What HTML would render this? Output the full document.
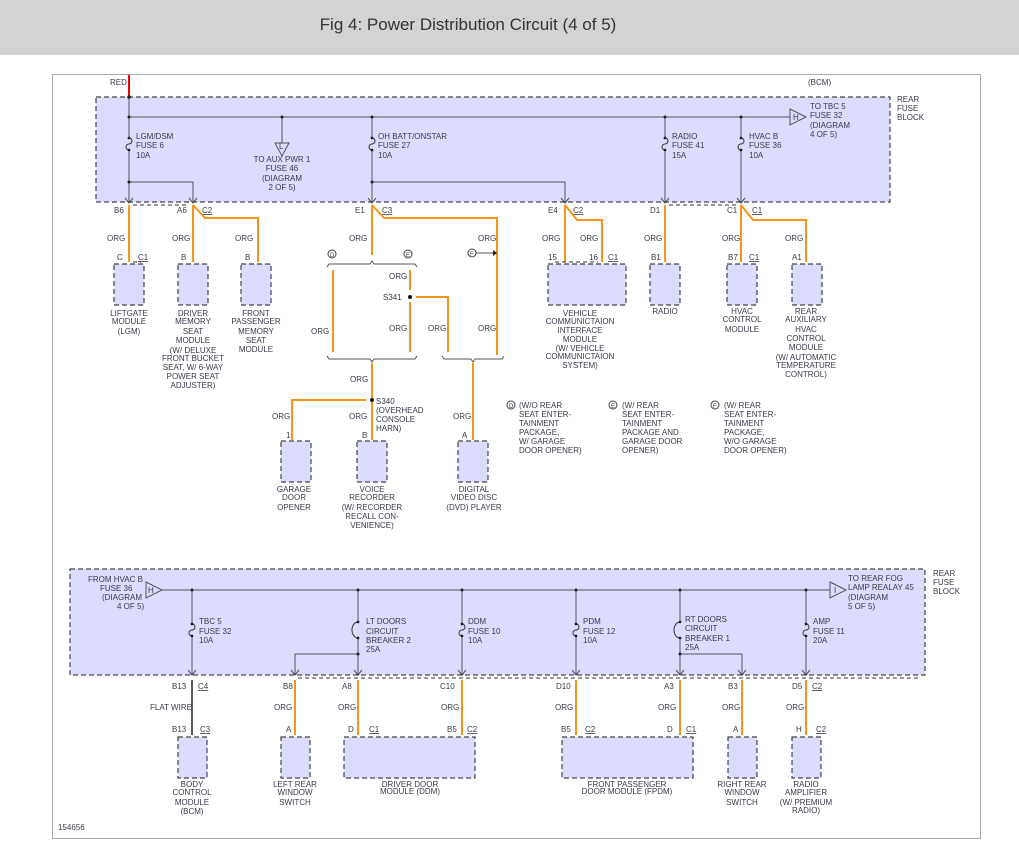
<!DOCTYPE html>
<html><head><meta charset="utf-8"><style>
body{margin:0;background:#fff}
svg{display:block}
text{font-family:"Liberation Sans",sans-serif;font-size:8px;fill:#3a3a4a}
.c{text-anchor:middle}
.o{stroke:#f7941d;stroke-width:2;fill:none}
.k{stroke:#555;stroke-width:1;fill:none}
.b{fill:#dcdcff;stroke:#444;stroke-width:1.2;stroke-dasharray:5,3}
.d{stroke:#333;stroke-width:1;stroke-dasharray:4,3;fill:none}
.brace{stroke:#555;stroke-width:1;fill:none}
.f{fill:none;stroke:#333;stroke-width:1}
.a{fill:none;stroke:#333;stroke-width:0.9}
</style></head><body>
<svg width="1019" height="859" viewBox="0 0 1019 859">
<defs>
<g id="fz"><rect x="-3" y="-6" width="6" height="12" fill="#dcdcff"/><path class="f" d="M0 -6a3 3 0 0 1 0 6a3 3 0 0 0 0 6"/><circle cx="0" cy="-6" r="1.4" fill="#222"/><circle cx="0" cy="6" r="1.4" fill="#222"/></g>
<g id="cb"><rect x="-3" y="-8" width="6" height="16" fill="#dcdcff"/><path class="f" d="M0 -8a6 8 0 0 0 0 16"/><circle cx="0" cy="-8" r="1.4" fill="#222"/><circle cx="0" cy="8" r="1.4" fill="#222"/></g>
<path id="dn" class="a" d="M-4 -5L0 0L4 -5"/>
<path id="up" class="a" d="M-4 4Q-2 0 0 0Q2 0 4 4"/>
</defs>
<rect x="0" y="0" width="1019" height="55" fill="#d3d3d3"/>
<text x="468" y="30" class="c" style="font-size:17px;fill:#333">Fig 4: Power Distribution Circuit (4 of 5)</text>
<rect x="52.5" y="74.5" width="928" height="764" fill="none" stroke="#aaa" stroke-width="1"/>

<!-- TOP BLOCK -->
<rect x="96" y="97" width="794" height="105" class="b"/>
<line x1="129" y1="75" x2="129" y2="97" stroke="#e00" stroke-width="2"/>
<text x="110" y="85">RED</text>
<text x="808" y="85">(BCM)</text>
<text x="897" y="102">REAR</text><text x="897" y="111">FUSE</text><text x="897" y="120">BLOCK</text>
<path class="k" d="M129 97V203M129 117H790M129 182H193V203M372 117V203M372 182H565V203M282 117V143M665 117V203M741 117V203"/>
<path d="M790 109L806 117L790 125Z" fill="#dcdcff" stroke="#555"/><text x="793" y="120">H</text>
<path d="M275 143L289 143L282 156Z" fill="#dcdcff" stroke="#555"/><text x="279" y="149">L</text>
<g fill="#222"><circle cx="129" cy="97" r="1.8"/><circle cx="129" cy="117" r="1.5"/><circle cx="129" cy="182" r="1.5"/><circle cx="282" cy="117" r="1.5"/><circle cx="372" cy="117" r="1.5"/><circle cx="372" cy="182" r="1.5"/><circle cx="665" cy="117" r="1.5"/><circle cx="741" cy="117" r="1.5"/></g>
<use href="#fz" x="129" y="144"/><use href="#fz" x="372" y="144"/><use href="#fz" x="665" y="144"/><use href="#fz" x="741" y="144"/>
<use href="#dn" x="129" y="203"/><use href="#dn" x="193" y="203"/><use href="#dn" x="372" y="203"/><use href="#dn" x="565" y="203"/><use href="#dn" x="665" y="203"/><use href="#dn" x="741" y="203"/>
<text x="136" y="139">LGM/DSM</text><text x="136" y="148">FUSE 6</text><text x="136" y="158">10A</text>
<text x="282" y="162" class="c">TO AUX PWR 1</text><text x="282" y="171" class="c">FUSE 46</text><text x="282" y="181" class="c">(DIAGRAM</text><text x="282" y="190" class="c">2 OF 5)</text>
<text x="378" y="139">OH BATT/ONSTAR</text><text x="378" y="148">FUSE 27</text><text x="378" y="158">10A</text>
<text x="672" y="139">RADIO</text><text x="672" y="148">FUSE 41</text><text x="672" y="158">15A</text>
<text x="749" y="139">HVAC B</text><text x="749" y="148">FUSE 36</text><text x="749" y="158">10A</text>
<text x="810" y="109">TO TBC 5</text><text x="810" y="118">FUSE 32</text><text x="810" y="128">(DIAGRAM</text><text x="810" y="137">4 OF 5)</text>
<path class="d" d="M133 205H189M669 205H737"/>
<text x="114" y="213">B6</text><text x="177" y="213">A6</text><text x="202" y="213" text-decoration="underline">C2</text>
<text x="355" y="213">E1</text><text x="382" y="213" text-decoration="underline">C3</text>
<text x="548" y="213">E4</text><text x="573" y="213" text-decoration="underline">C2</text>
<text x="650" y="213">D1</text><text x="727" y="213">C1</text><text x="752" y="213" text-decoration="underline">C1</text>
<!-- top wires -->
<path class="o" d="M129 205V262M193 205V262M193 205L205 218H258V262M372 205V255M372 205L384 218H497V355M565 205V262M565 205L577 220H602V262M665 205V262M741 205V262M741 205L753 220H806V262"/>
<g><text x="107" y="241">ORG</text><text x="172" y="241">ORG</text><text x="235" y="241">ORG</text><text x="349" y="241">ORG</text><text x="478" y="241">ORG</text><text x="542" y="241">ORG</text><text x="580" y="241">ORG</text><text x="644" y="241">ORG</text><text x="722" y="241">ORG</text><text x="785" y="241">ORG</text></g>
<text x="117" y="260">C</text><text x="138" y="260" text-decoration="underline">C1</text><text x="181" y="260">B</text><text x="245" y="260">B</text>
<text x="548" y="260">15</text><text x="589" y="260">16</text><text x="608" y="260" text-decoration="underline">C1</text><text x="651" y="260">B1</text><text x="728" y="260">B7</text><text x="749" y="260" text-decoration="underline">C1</text><text x="792" y="260">A1</text>
<rect x="114" y="264" width="30" height="41" class="b"/><rect x="178" y="264" width="30" height="41" class="b"/><rect x="241" y="264" width="30" height="41" class="b"/>
<rect x="548" y="264" width="78" height="41" class="b"/><rect x="650" y="264" width="30" height="41" class="b"/><rect x="727" y="264" width="30" height="41" class="b"/><rect x="792" y="264" width="30" height="41" class="b"/>
<g class="c">
<text x="129" y="316" class="c">LIFTGATE</text><text x="129" y="324" class="c">MODULE</text><text x="129" y="334" class="c">(LGM)</text>
<text x="193" y="316" class="c">DRIVER</text><text x="193" y="324" class="c">MEMORY</text><text x="193" y="334" class="c">SEAT</text><text x="193" y="343" class="c">MODULE</text><text x="193" y="353" class="c">(W/ DELUXE</text><text x="193" y="361" class="c">FRONT BUCKET</text><text x="193" y="370" class="c">SEAT, W/ 6-WAY</text><text x="193" y="379" class="c">POWER SEAT</text><text x="193" y="388" class="c">ADJUSTER)</text>
<text x="256" y="316" class="c">FRONT</text><text x="256" y="324" class="c">PASSENGER</text><text x="256" y="334" class="c">MEMORY</text><text x="256" y="343" class="c">SEAT</text><text x="256" y="352" class="c">MODULE</text>
<text x="580" y="316" class="c">VEHICLE</text><text x="580" y="324" class="c">COMMUNICTAION</text><text x="580" y="333" class="c">INTERFACE</text><text x="580" y="342" class="c">MODULE</text><text x="580" y="351" class="c">(W/ VEHICLE</text><text x="580" y="359" class="c">COMMUNICTAION</text><text x="580" y="368" class="c">SYSTEM)</text>
<text x="665" y="314" class="c">RADIO</text>
<text x="742" y="314" class="c">HVAC</text><text x="742" y="322" class="c">CONTROL</text><text x="742" y="332" class="c">MODULE</text>
<text x="806" y="314" class="c">REAR</text><text x="806" y="322" class="c">AUXILIARY</text><text x="806" y="332" class="c">HVAC</text><text x="806" y="341" class="c">CONTROL</text><text x="806" y="350" class="c">MODULE</text><text x="806" y="360" class="c">(W/ AUTOMATIC</text><text x="806" y="368" class="c">TEMPERATURE</text><text x="806" y="377" class="c">CONTROL)</text>
</g>
<path class="d" d="M133 262H141M555 262H598"/>
<!-- middle -->
<circle cx="332" cy="254" r="4" fill="#fff" stroke="#444"/><text x="330" y="257" style="font-size:6px">D</text>
<circle cx="408" cy="254" r="4" fill="#fff" stroke="#444"/><text x="406" y="257" style="font-size:6px">E</text>
<circle cx="472" cy="253" r="4" fill="#fff" stroke="#444"/><text x="470" y="256" style="font-size:6px">F</text>
<path class="k" d="M476 253H495"/><path d="M493 250L497 253L493 256Z" fill="#222"/>
<path class="brace" d="M327 267L329 264H370L372 261L374 264H415L417 267M327 356L329 359H370L372 362L374 359H415L417 356M442 356L444 359H471L473 362L475 359H502L504 356"/>
<path class="o" d="M333 270V352M410 270V290M410 302V352M416 297H448V352M372 363V440M473 363V440M366 400H292V440"/>
<circle cx="410" cy="297" r="2" fill="#111"/><circle cx="372" cy="400" r="2" fill="#111"/>
<text x="311" y="334">ORG</text><text x="389" y="279">ORG</text><text x="383" y="300">S341</text><text x="389" y="331">ORG</text><text x="428" y="331">ORG</text><text x="478" y="331">ORG</text>
<text x="350" y="382">ORG</text><text x="376" y="404">S340</text><text x="376" y="413">(OVERHEAD</text><text x="376" y="422">CONSOLE</text><text x="376" y="431">HARN)</text>
<text x="272" y="419">ORG</text><text x="349" y="419">ORG</text><text x="453" y="419">ORG</text>
<text x="286" y="438">1</text><text x="362" y="438">B</text><text x="462" y="438">A</text>
<rect x="281" y="441" width="30" height="41" class="b"/><rect x="357" y="441" width="30" height="41" class="b"/><rect x="458" y="441" width="30" height="41" class="b"/>
<text x="294" y="492" class="c">GARAGE</text><text x="294" y="500" class="c">DOOR</text><text x="294" y="510" class="c">OPENER</text>
<text x="372" y="492" class="c">VOICE</text><text x="372" y="500" class="c">RECORDER</text><text x="372" y="510" class="c">(W/ RECORDER</text><text x="372" y="519" class="c">RECALL CON-</text><text x="372" y="528" class="c">VENIENCE)</text>
<text x="474" y="492" class="c">DIGITAL</text><text x="474" y="500" class="c">VIDEO DISC</text><text x="474" y="510" class="c">(DVD) PLAYER</text>
<circle cx="511" cy="405" r="4" fill="#fff" stroke="#444"/><text x="509" y="408" style="font-size:6px">D</text>
<circle cx="613" cy="405" r="4" fill="#fff" stroke="#444"/><text x="611" y="408" style="font-size:6px">E</text>
<circle cx="715" cy="405" r="4" fill="#fff" stroke="#444"/><text x="713" y="408" style="font-size:6px">F</text>
<text x="519" y="408">(W/O REAR</text><text x="519" y="417">SEAT ENTER-</text><text x="519" y="426">TAINMENT</text><text x="519" y="435">PACKAGE,</text><text x="519" y="444">W/ GARAGE</text><text x="519" y="453">DOOR OPENER)</text>
<text x="622" y="408">(W/ REAR</text><text x="622" y="417">SEAT ENTER-</text><text x="622" y="426">TAINMENT</text><text x="622" y="435">PACKAGE AND</text><text x="622" y="444">GARAGE DOOR</text><text x="622" y="453">OPENER)</text>
<text x="724" y="408">(W/ REAR</text><text x="724" y="417">SEAT ENTER-</text><text x="724" y="426">TAINMENT</text><text x="724" y="435">PACKAGE,</text><text x="724" y="444">W/O GARAGE</text><text x="724" y="453">DOOR OPENER)</text>

<!-- BOTTOM BLOCK -->
<rect x="70" y="569" width="855" height="106" class="b"/>
<text x="933" y="576">REAR</text><text x="933" y="585">FUSE</text><text x="933" y="594">BLOCK</text>
<path class="k" d="M160 590H830M192 590V675M358 590V675M358 654H295V675M462 590V675M576 590V675M680 590V675M680 654H742V675M806 590V675"/>
<path d="M146 582L162 590L146 598Z" fill="#dcdcff" stroke="#555"/><text x="148" y="593">H</text>
<path d="M830 582L846 590L830 598Z" fill="#dcdcff" stroke="#555"/><text x="834" y="593">I</text>
<g fill="#222"><circle cx="192" cy="590" r="1.5"/><circle cx="358" cy="590" r="1.5"/><circle cx="462" cy="590" r="1.5"/><circle cx="576" cy="590" r="1.5"/><circle cx="680" cy="590" r="1.5"/><circle cx="806" cy="590" r="1.5"/><circle cx="358" cy="654" r="1.5"/><circle cx="680" cy="654" r="1.5"/></g>
<use href="#fz" x="192" y="630"/><use href="#cb" x="358" y="630"/><use href="#fz" x="462" y="630"/><use href="#fz" x="576" y="630"/><use href="#cb" x="680" y="630"/><use href="#fz" x="806" y="630"/>
<use href="#dn" x="192" y="675"/><use href="#dn" x="295" y="675"/><use href="#dn" x="358" y="675"/><use href="#dn" x="462" y="675"/><use href="#dn" x="576" y="675"/><use href="#dn" x="680" y="675"/><use href="#dn" x="742" y="675"/><use href="#dn" x="806" y="675"/>
<text x="88" y="582">FROM HVAC B</text><text x="100" y="591">FUSE 36</text><text x="102" y="600">(DIAGRAM</text><text x="117" y="609">4 OF 5)</text>
<text x="199" y="624">TBC 5</text><text x="199" y="634">FUSE 32</text><text x="199" y="643">10A</text>
<text x="366" y="624">LT DOORS</text><text x="366" y="634">CIRCUIT</text><text x="366" y="643">BREAKER 2</text><text x="366" y="652">25A</text>
<text x="468" y="624">DDM</text><text x="468" y="634">FUSE 10</text><text x="468" y="643">10A</text>
<text x="583" y="624">PDM</text><text x="583" y="634">FUSE 12</text><text x="583" y="643">10A</text>
<text x="685" y="622">RT DOORS</text><text x="685" y="631">CIRCUIT</text><text x="685" y="641">BREAKER 1</text><text x="685" y="650">25A</text>
<text x="813" y="624">AMP</text><text x="813" y="634">FUSE 11</text><text x="813" y="643">20A</text>
<text x="848" y="581">TO REAR FOG</text><text x="848" y="590">LAMP REALAY 45</text><text x="848" y="600">(DIAGRAM</text><text x="848" y="609">5 OF 5)</text>
<path class="d" d="M298 678H920"/>
<text x="172" y="689">B13</text><text x="198" y="689" text-decoration="underline">C4</text><text x="283" y="689">B8</text><text x="342" y="689">A8</text><text x="440" y="689">C10</text>
<text x="556" y="689">D10</text><text x="664" y="689">A3</text><text x="728" y="689">B3</text><text x="792" y="689">D5</text><text x="812" y="689" text-decoration="underline">C2</text>
<line x1="192" y1="680" x2="192" y2="735" stroke="#222" stroke-width="1.5"/>
<path class="o" d="M295 680V735M358 680V735M462 680V735M576 680V735M680 680V735M742 680V735M806 680V735"/>
<text x="150" y="710">FLAT WIRE</text><text x="274" y="710">ORG</text><text x="338" y="710">ORG</text><text x="441" y="710">ORG</text><text x="555" y="710">ORG</text><text x="658" y="710">ORG</text><text x="722" y="710">ORG</text><text x="786" y="710">ORG</text>
<text x="172" y="732">B13</text><text x="200" y="732" text-decoration="underline">C3</text><text x="286" y="732">A</text><text x="348" y="732">D</text><text x="369" y="732" text-decoration="underline">C1</text><text x="447" y="732">B5</text><text x="467" y="732" text-decoration="underline">C2</text>
<text x="561" y="732">B5</text><text x="585" y="732" text-decoration="underline">C2</text><text x="667" y="732">D</text><text x="686" y="732" text-decoration="underline">C1</text><text x="733" y="732">A</text><text x="796" y="732">H</text><text x="816" y="732" text-decoration="underline">C2</text>
<rect x="178" y="737" width="29" height="41" class="b"/><rect x="281" y="737" width="29" height="41" class="b"/><rect x="344" y="737" width="131" height="41" class="b"/>
<rect x="562" y="737" width="131" height="41" class="b"/><rect x="728" y="737" width="29" height="41" class="b"/><rect x="792" y="737" width="29" height="41" class="b"/>
<text x="192" y="787" class="c">BODY</text><text x="192" y="795" class="c">CONTROL</text><text x="192" y="805" class="c">MODULE</text><text x="192" y="814" class="c">(BCM)</text>
<text x="295" y="787" class="c">LEFT REAR</text><text x="295" y="795" class="c">WINDOW</text><text x="295" y="805" class="c">SWITCH</text>
<text x="410" y="787" class="c">DRIVER DOOR</text><text x="410" y="794" class="c">MODULE (DDM)</text>
<text x="627" y="787" class="c">FRONT PASSENGER</text><text x="627" y="794" class="c">DOOR MODULE (FPDM)</text>
<text x="742" y="787" class="c">RIGHT REAR</text><text x="742" y="795" class="c">WINDOW</text><text x="742" y="805" class="c">SWITCH</text>
<text x="806" y="787" class="c">RADIO</text><text x="806" y="795" class="c">AMPLIFIER</text><text x="806" y="805" class="c">(W/ PREMIUM</text><text x="806" y="813" class="c">RADIO)</text>
<text x="58" y="830">154656</text>
</svg>
</body></html>
